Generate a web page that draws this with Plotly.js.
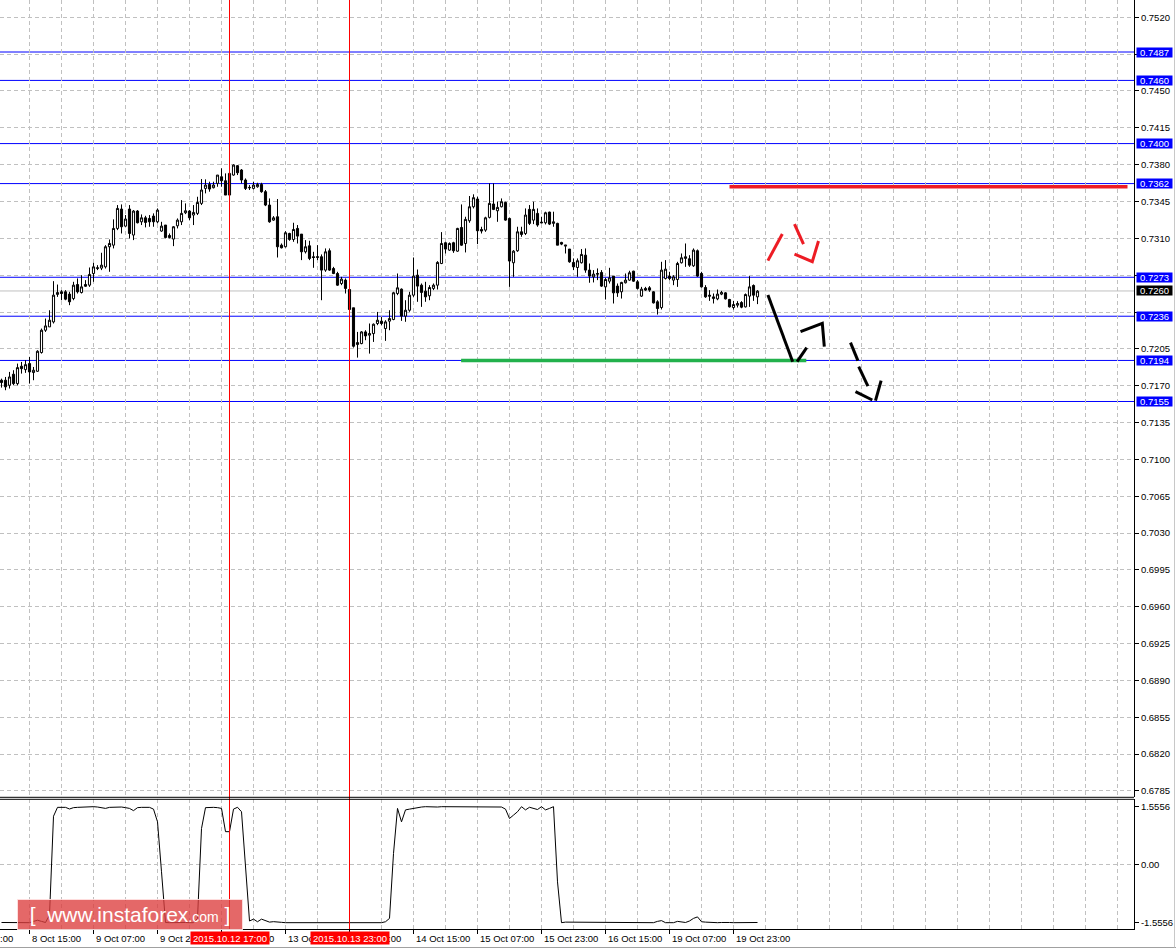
<!DOCTYPE html>
<html><head><meta charset="utf-8">
<script src="https://cdn.plot.ly/plotly-3.0.1.min.js"></script>
<style>html,body{margin:0;padding:0;background:#fff;}#chart{width:1176px;height:950px;}</style>
</head><body><div id="chart"></div>
<script>
// H1 bars, 8 Oct 08:00 .. 20 Oct 05:00 (bar index 0..189)
const openP = [.71752,.71752,.71704,.71809,.71720,.71885,.71853,.71910,.71825,.71837,.72015,.72227,.72259,.72306,.72567,.72592,.72592,.72570,.72528,.72661,
.72585,.72661,.72655,.72766,.72813,.72817,.72829,.73020,.73035,.73194,.73378,.73216,.73378,.73131,.73359,.73257,.73295,.73289,.73311,.73257,
.73169,.73226,.73127,.73093,.73219,.73257,.73343,.73359,.73321,.73337,.73432,.73574,.73612,.73581,.73622,.73685,.73647,.73511,.73701,.73790,
.73749,.73654,.73584,.73574,.73590,.73612,.73543,.73416,.73273,.73305,.73035,.73020,.73146,.73089,.73194,.73140,.72972,.73029,.72925,.72918,
.72925,.72798,.72982,.72813,.72766,.72671,.72703,.72614,.72440,.72091,.72100,.72211,.72180,.72195,.72291,.72313,.72243,.72313,.72329,.72576,
.72617,.72361,.72417,.72560,.72750,.72655,.72598,.72554,.72624,.72655,.72861,.73058,.72988,.73058,.72978,.73203,.73051,.73267,.73400,.73473,
.73184,.73178,.73299,.73426,.73362,.73400,.73441,.73289,.72868,.72982,.73162,.73146,.73375,.73273,.73337,.73254,.73248,.73349,.73242,.73242,
.73061,.73026,.72998,.72871,.72823,.72868,.72940,.72798,.72734,.72766,.72776,.72639,.72693,.72741,.72646,.72592,.72678,.72703,.72788,.72687,
.72551,.72624,.72630,.72592,.72497,.72443,.72719,.72741,.72703,.72709,.72868,.72909,.72906,.72839,.72982,.72766,.72633,.72560,.72528,.72525,
.72570,.72582,.72519,.72443,.72465,.72490,.72449,.72551,.72652,.72544];
const highP = [.71767,.71783,.71831,.71847,.71910,.71926,.71942,.71974,.71878,.72037,.72243,.72338,.72417,.72693,.72661,.72608,.72608,.72592,.72687,.72719,
.72750,.72703,.72823,.72867,.72845,.72963,.73035,.73089,.73280,.73416,.73422,.73321,.73416,.73368,.73368,.73327,.73314,.73321,.73337,.73384,
.73257,.73226,.73146,.73216,.73289,.73463,.73432,.73368,.73416,.73495,.73663,.73660,.73638,.73638,.73701,.73765,.73717,.73749,.73803,.73796,
.73758,.73669,.73606,.73638,.73628,.73628,.73559,.73479,.73311,.73473,.73051,.73168,.73153,.73248,.73226,.73140,.73083,.73077,.72972,.73035,
.72947,.73004,.73004,.72829,.72782,.72734,.72719,.72614,.72440,.72211,.72218,.72227,.72291,.72291,.72401,.72354,.72322,.72417,.72592,.72766,
.72624,.72512,.72592,.72918,.72804,.72671,.72687,.72655,.72671,.72883,.73159,.73067,.73061,.73067,.73200,.73422,.73305,.73502,.73518,.73495,
.73210,.73305,.73622,.73622,.73448,.73479,.73448,.73296,.72988,.73210,.73210,.73384,.73416,.73448,.73384,.73305,.73353,.73353,.73353,.73248,
.73067,.73035,.72998,.72909,.72909,.72998,.73004,.72861,.72798,.72814,.72798,.72725,.72820,.72741,.72671,.72687,.72766,.72792,.72792,.72703,
.72639,.72639,.72646,.72598,.72512,.72877,.72893,.72782,.72750,.72877,.72956,.73051,.72940,.73004,.72994,.72782,.72655,.72608,.72576,.72614,
.72601,.72589,.72525,.72506,.72503,.72503,.72576,.72741,.72662,.72608];
const lowP = [.71682,.71657,.71673,.71704,.71704,.71815,.71822,.71720,.71752,.71831,.72005,.72211,.72259,.72291,.72544,.72512,.72512,.72465,.72512,.72576,
.72576,.72639,.72639,.72687,.72798,.72798,.72813,.72782,.73004,.73178,.73146,.73210,.73099,.73083,.73242,.73226,.73204,.73210,.73210,.73242,
.73162,.73099,.73099,.73026,.73194,.73226,.73330,.73273,.73226,.73321,.73416,.73527,.73543,.73574,.73590,.73590,.73511,.73495,.73695,.73701,
.73622,.73559,.73559,.73565,.73581,.73533,.73406,.73248,.73267,.72918,.73004,.73013,.73077,.73067,.73051,.72893,.72956,.72893,.72820,.72893,
.72512,.72782,.72791,.72760,.72649,.72655,.72576,.72417,.72062,.71967,.72094,.72132,.72005,.72116,.72275,.72275,.72126,.72227,.72322,.72560,
.72316,.72307,.72402,.72544,.72497,.72449,.72497,.72512,.72608,.72614,.72855,.72956,.72982,.72962,.72972,.73029,.72966,.73248,.73384,.73045,
.73146,.73162,.73289,.73368,.73257,.73394,.73267,.72639,.72734,.72972,.73115,.73131,.73226,.73235,.73210,.73242,.73232,.73226,.73210,.73035,
.73035,.72956,.72868,.72798,.72734,.72861,.72773,.72678,.72681,.72703,.72639,.72519,.72671,.72481,.72544,.72528,.72671,.72696,.72687,.72614,
.72544,.72601,.72592,.72481,.72376,.72424,.72709,.72703,.72655,.72639,.72861,.72829,.72829,.72829,.72734,.72633,.72535,.72506,.72481,.72512,
.72560,.72519,.72443,.72424,.72443,.72436,.72443,.72449,.72506,.72475];
const closeP = [.71730,.71689,.71783,.71720,.71872,.71862,.71900,.71831,.71847,.72027,.72227,.72268,.72322,.72560,.72585,.72576,.72522,.72497,.72655,.72592,
.72639,.72645,.72757,.72829,.72820,.72845,.73020,.73051,.73194,.73384,.73210,.73283,.73146,.73359,.73248,.73295,.73251,.73257,.73257,.73368,
.73216,.73108,.73108,.73210,.73273,.73337,.73362,.73295,.73346,.73441,.73559,.73606,.73568,.73606,.73701,.73647,.73511,.73717,.73796,.73723,
.73654,.73574,.73581,.73606,.73612,.73543,.73416,.73257,.73295,.73020,.73010,.73153,.73089,.73184,.73121,.72972,.73020,.72909,.72918,.72925,
.72798,.72972,.72798,.72766,.72655,.72712,.72624,.72424,.72075,.72110,.72211,.72173,.72195,.72284,.72322,.72291,.72306,.72338,.72583,.72630,
.72361,.72417,.72560,.72741,.72646,.72586,.72544,.72633,.72655,.72871,.73051,.72998,.73051,.72982,.73194,.73035,.73280,.73400,.73486,.73172,
.73169,.73295,.73432,.73375,.73394,.73448,.73273,.72884,.72978,.73162,.73137,.73321,.73242,.73375,.73226,.73248,.73343,.73235,.73257,.73035,
.73045,.73035,.72877,.72829,.72887,.72947,.72798,.72741,.72760,.72760,.72646,.72709,.72725,.72582,.72582,.72681,.72703,.72773,.72693,.72624,
.72617,.72608,.72608,.72487,.72433,.72798,.72807,.72719,.72734,.72861,.72915,.72925,.72845,.72988,.72741,.72639,.72544,.72551,.72544,.72570,
.72586,.72525,.72449,.72471,.72481,.72446,.72566,.72639,.72560,.72598];
// lower indicator panel
const indicator = [-1.55,-1.55,-1.555,-1.55,-1.555,-1.55,-1.55,-1.555,-1.52,-1.49,-1.52,-1.55,-1.35,1.30,1.538,1.547,1.538,1.494,1.53,1.538,
1.547,1.538,1.547,1.556,1.547,1.538,1.51,1.538,1.547,1.547,1.547,1.53,1.51,1.45,1.53,1.538,1.538,1.538,1.49,1.15,
-0.19,-1.55,-1.555,-1.55,-1.555,-1.555,-1.55,-1.555,-1.555,-1.44,0.97,1.53,1.538,1.538,1.53,1.51,0.886,0.886,1.49,1.54,
1.42,-0.19,-1.51,-1.46,-1.53,-1.46,-1.51,-1.54,-1.528,-1.546,-1.546,-1.555,-1.555,-1.55,-1.555,-1.55,-1.555,-1.55,-1.546,-1.555,
-1.555,-1.55,-1.555,-1.555,-1.55,-1.555,-1.55,-1.555,-1.555,-1.55,-1.555,-1.555,-1.55,-1.555,-1.546,-1.555,-1.53,-1.44,0.30,1.51,
1.15,1.47,1.49,1.51,1.538,1.547,1.556,1.547,1.556,1.547,1.556,1.556,1.547,1.556,1.556,1.547,1.556,1.556,1.547,1.556,
1.547,1.556,1.547,1.556,1.556,1.547,1.49,1.24,1.33,1.42,1.556,1.47,1.54,1.51,1.48,1.556,1.47,1.51,1.556,-0.46,
-1.555,-1.54,-1.54,-1.55,-1.55,-1.54,-1.54,-1.55,-1.55,-1.55,-1.55,-1.555,-1.555,-1.555,-1.555,-1.555,-1.555,-1.555,-1.555,-1.555,
-1.555,-1.555,-1.555,-1.555,-1.52,-1.50,-1.555,-1.55,-1.555,-1.52,-1.54,-1.55,-1.51,-1.44,-1.40,-1.53,-1.54,-1.55,-1.555,-1.555,
-1.55,-1.54,-1.55,-1.555,-1.555,-1.55,-1.55,-1.55,-1.55,-1.55];
// time axis labels (bar index of each label); partly hidden labels keep only the visible part
const tickIdx = [7, 23, 39, 71, 103, 119, 135, 151, 167, 183];
const tickLabels = ["8 Oct 15:00","9 Oct 07:00","9 Oct 2","13 Oc","14 Oct 15:00","15 Oct 07:00","15 Oct 23:00","16 Oct 15:00","19 Oct 07:00","19 Oct 23:00"];
const tailLabels = [":00", "0", ":00"];          // visible ends of 7 Oct 23:00, 12 Oct 15:00, 13 Oct 23:00
const tailEndIdx = [3.3, 68.5, 100.25];           // bar position where each visible tail ends
const allTickIdx = [7, 23, 39, 55, 71, 87, 103, 119, 135, 151, 167, 183];
const vLineIdx = [57, 87];
const vLineLabels = ["2015.10.12 17:00", "2015.10.13 23:00"];
// horizontal levels
const levels = [0.7487, 0.7460, 0.7400, 0.7362, 0.7273, 0.7236, 0.7194, 0.7155];
const levelLabels = ["0.7487","0.7460","0.7400","0.7362","0.7273","0.7236","0.7194","0.7155"];
const bidPrice = 0.7260;
const bidLabel = "0.7260";
// hand drawn marks (bar index, price)
const redLineX = [182, 281.5], redLineY = [0.7359, 0.7359];
const greenLineX = [114.9, 201.2], greenLineY = [0.71939, 0.71939];
const redArrowX = [191.6, 195.2, null, 198.25, 200.5, null, 198.25, 202.7, 204.25];
const redArrowY = [0.72888, 0.73141, null, 0.73236, 0.73046, null, 0.72951, 0.72878, 0.73075];
const blackArrowX = [191.6, 197.8, null, 198.9, 201.3, null, 199.75, 205.2, 205.7, null, 212.25, 214.1, null, 214.3, 216.6, null, 213.5, 217.7, null, 218.5, 219.9];
const blackArrowY = [0.72562, 0.71928, null, 0.71928, 0.72061, null, 0.72213, 0.72293, 0.72071, null, 0.72109, 0.71938, null, 0.71881, 0.71697, null, 0.71643, 0.71564, null, 0.71558, 0.71748];

const barIndex = openP.map((_, i) => i);
const FONT = "Liberation Sans, Arial, sans-serif";
const W = 1176, H = 950, R = 42, B = 21;
const plotW = W - R, plotH = H - B;
const mainBottomPx = 797.3, indTopPx = 799.3;
const mainDomain = [1 - mainBottomPx / plotH, 1];
const indDomain = [0, 1 - indTopPx / plotH];

const traces = [
  {type: 'candlestick', x: barIndex, open: openP, high: highP, low: lowP, close: closeP,
   xaxis: 'x', yaxis: 'y', whiskerwidth: 0, hoverinfo: 'skip',
   increasing: {line: {color: '#000', width: 1}, fillcolor: '#fff'},
   decreasing: {line: {color: '#000', width: 1}, fillcolor: '#000'}},
  {type: 'scatter', mode: 'lines', x: redLineX, y: redLineY, xaxis: 'x', yaxis: 'y', line: {color: '#ed1c24', width: 3.5}, hoverinfo: 'skip'},
  {type: 'scatter', mode: 'lines', x: greenLineX, y: greenLineY, xaxis: 'x', yaxis: 'y', line: {color: '#22b14c', width: 3.5}, hoverinfo: 'skip'},
  {type: 'scatter', mode: 'lines', x: redArrowX, y: redArrowY, xaxis: 'x', yaxis: 'y', line: {color: '#ed1c24', width: 3}, connectgaps: false, hoverinfo: 'skip'},
  {type: 'scatter', mode: 'lines', x: blackArrowX, y: blackArrowY, xaxis: 'x', yaxis: 'y', line: {color: '#000', width: 3}, connectgaps: false, hoverinfo: 'skip'},
  {type: 'scatter', mode: 'lines', x: barIndex, y: indicator, xaxis: 'x', yaxis: 'y2', line: {color: '#000', width: 1}, hoverinfo: 'skip'}
];

// grid positions
const majorX = allTickIdx;
const minorX = [];
for (let v = 15; v <= 279; v += 8) { if (!majorX.includes(v)) minorX.push(v); }
const yTicks = [], yText = [];
const hiddenY = [7485, 7275, 7240];
for (let k = 0; k <= 21; k++) { const n = 6785 + 35 * k; yTicks.push(n / 10000); yText.push(hiddenY.includes(n) ? '' : (n / 10000).toFixed(4)); }

const GRID = '#c0c0c0', DASH = '4px,3px';
const shapes = [];
levels.forEach(v => shapes.push({type: 'line', xref: 'paper', x0: 0, x1: 1, yref: 'y', y0: v, y1: v, line: {color: '#0000ff', width: 1}, layer: 'between'}));
shapes.push({type: 'line', xref: 'paper', x0: 0, x1: 1, yref: 'y', y0: bidPrice, y1: bidPrice, line: {color: '#c0c0c0', width: 1}, layer: 'between'});
vLineIdx.forEach(v => shapes.push({type: 'line', xref: 'x', x0: v, x1: v, yref: 'paper', y0: 0, y1: 1, line: {color: '#ff0000', width: 1}, layer: 'above'}));
shapes.push({type: 'line', xref: 'paper', x0: 0, x1: 1, yref: 'paper', y0: mainDomain[0], y1: mainDomain[0], line: {color: '#000', width: 1}});
shapes.push({type: 'line', xref: 'paper', x0: 0, x1: 1, yref: 'paper', y0: indDomain[1], y1: indDomain[1], line: {color: '#000', width: 1}});
shapes.push({type: 'line', xref: 'paper', x0: 0, x1: W / plotW, yref: 'paper', y0: -18.5 / plotH, y1: -18.5 / plotH, line: {color: '#a0a0a0', width: 1}});
shapes.push({type: 'line', xref: 'paper', x0: 1174.5 / plotW, x1: 1174.5 / plotW, yref: 'paper', y0: -18.5 / plotH, y1: 1, line: {color: '#c8c8c8', width: 1}});

const annotations = [];
levels.forEach((v, i) => annotations.push({xref: 'paper', x: 1, xshift: 2, xanchor: 'left', yref: 'y', y: v, yanchor: 'middle',
  text: levelLabels[i], showarrow: false, bgcolor: '#0000ff', font: {family: FONT, size: 9.5, color: '#fff'}, width: 35, height: 9, borderpad: 0, align: 'center'}));
annotations.push({xref: 'paper', x: 1, xshift: 2, xanchor: 'left', yref: 'y', y: bidPrice, yanchor: 'middle',
  text: bidLabel, showarrow: false, bgcolor: '#000', font: {family: FONT, size: 9.5, color: '#fff'}, width: 35, height: 9, borderpad: 0, align: 'center'});
const labY = -9 / plotH;
tickIdx.forEach((v, i) => annotations.push({xref: 'x', x: v, xanchor: 'left', xshift: 0, yref: 'paper', y: labY, yanchor: 'middle',
  text: tickLabels[i], showarrow: false, font: {family: FONT, size: 9.5, color: '#000'}, borderpad: 1}));
tailLabels.forEach((t, i) => annotations.push({xref: 'x', x: tailEndIdx[i], xanchor: 'right', yref: 'paper', y: labY, yanchor: 'middle',
  text: t, showarrow: false, font: {family: FONT, size: 9.5, color: '#000'}, borderpad: 1}));
vLineIdx.forEach((v, i) => annotations.push({xref: 'x', x: v, xanchor: 'center', yref: 'paper', y: labY, yanchor: 'middle',
  text: vLineLabels[i], showarrow: false, bgcolor: '#ff0000', font: {family: FONT, size: 9.5, color: '#fff'}, borderpad: 0, width: 78, height: 12}));
annotations.push({xref: 'paper', x: 17 / plotW, xanchor: 'left', yref: 'paper', y: (plotH - 914.5) / plotH, yanchor: 'middle',
  text: "[  www.instaforex<span style='font-size:14px'>.com</span> ]", showarrow: false, bgcolor: 'rgba(220,62,62,0.78)',
  bordercolor: 'rgba(255,225,225,0.9)', borderwidth: 1, borderpad: 0, width: 224, height: 29, align: 'center',
  font: {family: FONT, size: 21, color: '#fff'}});

const layout = {
  width: W, height: H, margin: {l: 0, r: R, t: 0, b: B}, paper_bgcolor: '#fff', plot_bgcolor: '#fff',
  showlegend: false, hovermode: false, boxgap: 0.25, dragmode: false,
  font: {family: FONT, size: 9.5, color: '#000'},
  xaxis: {type: 'linear', range: [-0.375, 283.125], anchor: 'y2', showline: true, linecolor: '#000', linewidth: 1,
    tickmode: 'array', tickvals: majorX, ticktext: majorX.map(() => ''), ticks: 'outside', ticklen: 4, tickcolor: '#000',
    showgrid: true, gridcolor: GRID, griddash: DASH, gridwidth: 1, zeroline: false,
    minor: {tickmode: 'array', tickvals: minorX, showgrid: true, gridcolor: GRID, griddash: DASH, gridwidth: 1, ticks: ''},
    rangeslider: {visible: false}, fixedrange: true},
  yaxis: {domain: mainDomain, anchor: 'x', side: 'right', range: [0.67790, 0.75364], showline: true, linecolor: '#000', linewidth: 1,
    tickmode: 'array', tickvals: yTicks, ticktext: yText, ticks: 'outside', ticklen: 4, tickcolor: '#000',
    showgrid: true, gridcolor: GRID, griddash: DASH, gridwidth: 1, zeroline: false, fixedrange: true,
    tickfont: {family: FONT, size: 9.5, color: '#000'}},
  yaxis2: {domain: indDomain, anchor: 'x', side: 'right', range: [-1.7245, 1.754], showline: true, linecolor: '#000', linewidth: 1,
    tickmode: 'array', tickvals: [1.5556, 0, -1.5556], ticktext: ['1.5556', '0.00', '-1.5556'], ticks: 'outside', ticklen: 4, tickcolor: '#000',
    showgrid: false, zeroline: false, fixedrange: true,
    minor: {tickmode: 'array', tickvals: [0], showgrid: true, gridcolor: GRID, griddash: DASH, gridwidth: 1, ticks: ''},
    tickfont: {family: FONT, size: 9.5, color: '#000'}},
  shapes: shapes, annotations: annotations
};
Plotly.newPlot('chart', traces, layout, {displayModeBar: false, staticPlot: true});
</script></body></html>
